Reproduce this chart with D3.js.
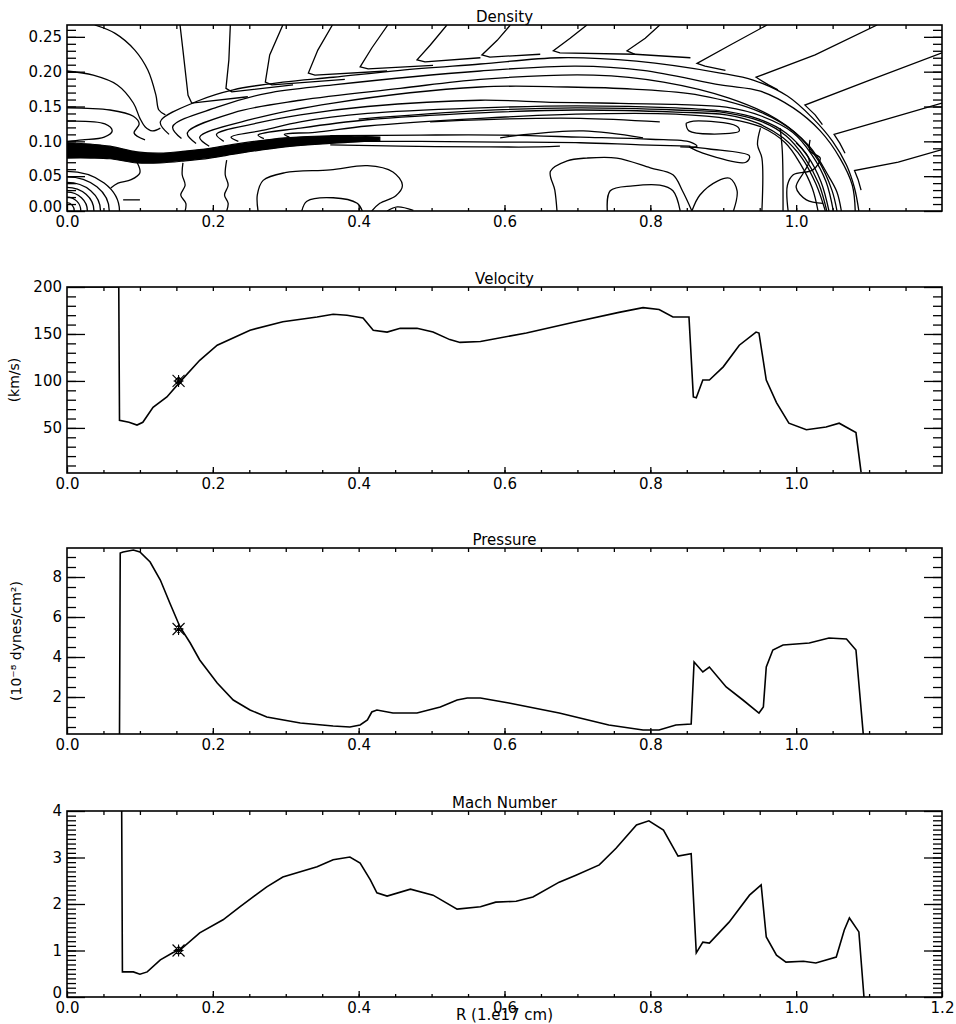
<!DOCTYPE html>
<html>
<body style="margin:0;background:#fff">

<script src="https://d3js.org/d3.v7.min.js"></script>
<script>

const width = 956;
const height = 1024;
const left = 67;
const right = 942;
const panelH = 186;
const tops = [25, 287, 548, 811];
const font = 'DejaVu Sans, sans-serif';

// shared radius axis (1e17 cm)
const rLabels = [0, 0.2, 0.4, 0.6, 0.8, 1.0];
const rLabelsLast = [0, 0.2, 0.4, 0.6, 0.8, 1.0, 1.2];

// velocity (km/s)
const velX = [0, 0.071, 0.072, 0.085, 0.096, 0.104, 0.118, 0.137, 0.155, 0.182, 0.206, 0.251, 0.296, 0.343, 0.365, 0.384, 0.406, 0.420, 0.439, 0.457, 0.480, 0.502, 0.525, 0.539, 0.567, 0.630, 0.698, 0.757, 0.790, 0.812, 0.831, 0.853, 0.859, 0.863, 0.872, 0.881, 0.900, 0.922, 0.945, 0.949, 0.959, 0.973, 0.990, 1.014, 1.041, 1.059, 1.082, 1.089];
const velY = [200, 200, 58, 56, 53, 56, 72, 83, 99, 122, 138, 154, 163, 168, 171, 170, 167, 154, 152, 156, 156, 152, 144, 141, 142, 151, 163, 173, 178, 176, 168, 168, 83, 82, 101, 101, 115, 138, 152, 151, 101, 77, 55, 48, 51, 55, 45, 3];

// pressure (1e-8 dynes/cm2)
const presX = [0.072, 0.073, 0.077, 0.091, 0.100, 0.114, 0.128, 0.141, 0.155, 0.169, 0.182, 0.206, 0.228, 0.251, 0.274, 0.320, 0.365, 0.388, 0.402, 0.412, 0.418, 0.425, 0.447, 0.480, 0.512, 0.535, 0.549, 0.567, 0.606, 0.675, 0.743, 0.790, 0.812, 0.835, 0.856, 0.860, 0.872, 0.881, 0.904, 0.927, 0.949, 0.955, 0.959, 0.968, 0.982, 1.018, 1.045, 1.069, 1.082, 1.092];
const presY = [0.15, 9.2, 9.25, 9.35, 9.25, 8.75, 7.85, 6.7, 5.5, 4.7, 3.85, 2.7, 1.85, 1.35, 1.0, 0.7, 0.55, 0.5, 0.6, 0.85, 1.25, 1.35, 1.2, 1.2, 1.5, 1.85, 1.95, 1.95, 1.7, 1.2, 0.6, 0.35, 0.35, 0.6, 0.65, 3.75, 3.25, 3.5, 2.5, 1.85, 1.2, 1.5, 3.5, 4.35, 4.6, 4.7, 4.95, 4.9, 4.35, 0.15];

// mach number
const machX = [0.075, 0.076, 0.091, 0.100, 0.110, 0.128, 0.145, 0.158, 0.182, 0.214, 0.237, 0.274, 0.296, 0.343, 0.365, 0.388, 0.402, 0.416, 0.425, 0.439, 0.471, 0.502, 0.535, 0.567, 0.588, 0.616, 0.639, 0.675, 0.698, 0.730, 0.753, 0.781, 0.798, 0.818, 0.838, 0.856, 0.863, 0.872, 0.881, 0.908, 0.936, 0.952, 0.959, 0.973, 0.986, 1.010, 1.027, 1.055, 1.066, 1.073, 1.086, 1.093];
const machY = [4, 0.54, 0.54, 0.49, 0.54, 0.8, 0.95, 1.05, 1.38, 1.66, 1.94, 2.37, 2.58, 2.8, 2.95, 3.01, 2.88, 2.52, 2.24, 2.17, 2.32, 2.19, 1.89, 1.94, 2.04, 2.06, 2.15, 2.47, 2.62, 2.84, 3.2, 3.7, 3.79, 3.59, 3.03, 3.08, 0.95, 1.18, 1.16, 1.61, 2.19, 2.41, 1.29, 0.9, 0.75, 0.77, 0.73, 0.86, 1.44, 1.7, 1.4, 0];

// the marked cell
const markR = 0.153;
const markVel = 100;
const markPres = 5.4;
const markMach = 1.0;

// density contours, [R, z] pairs
const shellArcs = [
  [[0.140,0.110],[0.128,0.128],[0.182,0.159],[0.228,0.174],[0.296,0.185],[0.365,0.192],[0.457,0.202],[0.567,0.211],[0.676,0.220],[0.781,0.215],[0.896,0.198],[0.941,0.188],[0.988,0.165],[1.023,0.133],[1.050,0.100],[1.069,0.066],[1.080,0.033],[1.086,0]],
  [[0.157,0.104],[0.145,0.121],[0.206,0.149],[0.274,0.169],[0.365,0.181],[0.567,0.201],[0.698,0.208],[0.790,0.202],[0.896,0.181],[0.951,0.172],[0.996,0.148],[1.033,0.115],[1.060,0.076],[1.077,0.037],[1.081,0]],
  [[0.177,0.097],[0.165,0.112],[0.228,0.141],[0.320,0.159],[0.457,0.176],[0.567,0.189],[0.722,0.195],[0.818,0.185],[0.908,0.162],[0.973,0.132],[1.018,0.093],[1.045,0.049],[1.056,0.027],[1.062,0]],
  [[0.195,0.093],[0.182,0.106],[0.251,0.131],[0.365,0.155],[0.567,0.178],[0.686,0.178],[0.776,0.175],[0.868,0.166],[0.951,0.142],[0.999,0.112],[1.030,0.073],[1.049,0.030],[1.056,0]],
  [[0.215,0.100],[0.205,0.110],[0.260,0.126],[0.320,0.138],[0.412,0.150],[0.567,0.159],[0.663,0.156],[0.731,0.155],[0.835,0.153],[0.904,0.149],[0.953,0.136],[0.995,0.113],[1.022,0.080],[1.041,0.042],[1.051,0]],
  [[0.235,0.100],[0.225,0.106],[0.270,0.116],[0.320,0.128],[0.412,0.140],[0.567,0.148],[0.698,0.151],[0.835,0.148],[0.904,0.143],[0.949,0.132],[0.986,0.112],[1.015,0.080],[1.034,0.042],[1.045,0]],
  [[0.400,0.132],[0.567,0.144],[0.698,0.148],[0.835,0.145],[0.904,0.141],[0.951,0.129],[0.986,0.108],[1.012,0.076],[1.031,0.039],[1.042,0]],
  [[0.270,0.104],[0.262,0.109],[0.320,0.119],[0.412,0.131],[0.567,0.141],[0.698,0.145],[0.835,0.142],[0.904,0.138],[0.947,0.126],[0.982,0.105],[1.008,0.076],[1.027,0.039],[1.040,0]],
  [[0.305,0.106],[0.298,0.110],[0.340,0.113],[0.412,0.122],[0.567,0.133],[0.698,0.139],[0.835,0.139],[0.909,0.132],[0.951,0.121],[0.985,0.098],[1.005,0.069],[1.022,0.033],[1.030,0]]
];

const windLines = [
  [[0.155,0.267],[0.159,0.231],[0.166,0.166],[0.171,0.155],[0.248,0.164]],
  [[0.224,0.267],[0.222,0.217],[0.218,0.176],[0.226,0.171],[0.310,0.181]],
  [[0.296,0.267],[0.278,0.224],[0.272,0.185],[0.281,0.181],[0.381,0.189]],
  [[0.364,0.267],[0.344,0.231],[0.331,0.198],[0.340,0.195],[0.439,0.201]],
  [[0.440,0.267],[0.418,0.234],[0.402,0.207],[0.413,0.204],[0.502,0.209]],
  [[0.521,0.267],[0.498,0.238],[0.480,0.217],[0.491,0.214],[0.567,0.220]],
  [[0.608,0.267],[0.590,0.245],[0.569,0.224],[0.580,0.221],[0.649,0.225]],
  [[0.713,0.267],[0.690,0.248],[0.667,0.230],[0.676,0.227],[0.779,0.225]],
  [[0.813,0.267],[0.793,0.248],[0.768,0.230],[0.779,0.225],[0.855,0.220]],
  [[0.960,0.267],[0.909,0.238],[0.864,0.212],[0.875,0.208],[0.903,0.202]],
  [[1.111,0.267],[1.026,0.224],[0.945,0.192],[0.962,0.181],[0.975,0.174]],
  [[1.200,0.227],[1.101,0.188],[1.012,0.152],[1.026,0.138],[1.036,0.124]],
  [[1.200,0.155],[1.122,0.131],[1.052,0.110],[1.060,0.097],[1.067,0.083]],
  [[1.200,0.088],[1.140,0.070],[1.080,0.058],[1.085,0.045],[1.089,0.030]]
];

const innerLines = [
  [[0.038,0.267],[0.066,0.255],[0.093,0.231],[0.111,0.202],[0.122,0.166],[0.126,0.145],[0.135,0.138]],
  [[0,0.201],[0.036,0.195],[0.069,0.181],[0.091,0.155],[0.100,0.133],[0.107,0.121],[0.117,0.115],[0.128,0.119]],
  [[0,0.148],[0.059,0.145],[0.091,0.136],[0.099,0.125],[0.092,0.112],[0.107,0.102]],
  [[0,0.129],[0.052,0.125],[0.062,0.115],[0.051,0.106],[0.021,0.102],[0,0.100]],
  [[0.096,0.070],[0.100,0.055],[0.088,0.045],[0.070,0.040],[0.060,0.033]],
  [[0.077,0.016],[0.100,0.016]],
  [[0.159,0.069],[0.158,0.052],[0.162,0.037],[0.156,0.023],[0.163,0.011],[0.162,0]],
  [[0.219,0.073],[0.217,0.052],[0.221,0.037],[0.216,0.023],[0.221,0.011],[0.219,0]],
  [[0.262,0],[0.261,0.023],[0.269,0.044],[0.299,0.055],[0.361,0.059],[0.412,0.065],[0.447,0.056],[0.460,0.037],[0.451,0.022],[0.429,0.011],[0.418,0]],
  [[0.322,0],[0.329,0.014],[0.365,0.019],[0.398,0.011],[0.405,0]],
  [[0.439,0],[0.453,0.006],[0.475,0.001]],
  [[0.672,0],[0.669,0.030],[0.663,0.057],[0.686,0.072],[0.713,0.076],[0.754,0.076],[0.800,0.062],[0.831,0.052],[0.844,0.029],[0.857,0]],
  [[0.741,0],[0.745,0.029],[0.776,0.036],[0.813,0.037],[0.831,0.029],[0.841,0]],
  [[0.857,0],[0.868,0.023],[0.892,0.043],[0.909,0.047],[0.919,0.029],[0.914,0]],
  [[0.951,0.119],[0.947,0.095],[0.953,0.076],[0.953,0]],
  [[0.978,0.119],[0.981,0.086],[0.982,0]],
  [[0.989,0],[0.988,0.037],[0.996,0.052],[1.023,0.059],[1.033,0.076],[1.019,0.086],[1.019,0.102]],
  [[1.000,0.098],[1.018,0.073],[1.010,0.055],[1.000,0.034],[1.014,0.016],[1.037,0.011]],
  [[0.849,0.126],[0.859,0.129],[0.918,0.122],[0.922,0.115],[0.914,0.112],[0.853,0.115],[0.849,0.126]],
  [[0.853,0.092],[0.881,0.089],[0.936,0.079],[0.931,0.070],[0.872,0.083],[0.853,0.092]],
  [[0.361,0.108],[0.484,0.109],[0.594,0.109],[0.704,0.106],[0.800,0.103],[0.855,0.099],[0.864,0.093],[0.841,0.092]],
  [[0.361,0.100],[0.484,0.100],[0.594,0.099],[0.704,0.098],[0.786,0.095],[0.855,0.093]],
  [[0.361,0.095],[0.457,0.093],[0.567,0.092],[0.649,0.092],[0.676,0.093]],
  [[0.594,0.105],[0.621,0.109],[0.708,0.115],[0.790,0.105]],
  [[0.498,0.128],[0.594,0.132],[0.704,0.133],[0.813,0.128]]
];

// dense contour band along the jet
const bandX = [0, 0.032, 0.059, 0.096, 0.128, 0.162, 0.196, 0.237, 0.299, 0.361, 0.429];
const bandTop = [0.098, 0.096, 0.093, 0.085, 0.083, 0.086, 0.090, 0.097, 0.105, 0.108, 0.106];
const bandBot = [0.076, 0.076, 0.075, 0.069, 0.069, 0.072, 0.076, 0.083, 0.092, 0.097, 0.101];

// rings around the origin (semi-axes)
const ringRx = [0.010, 0.019, 0.028, 0.037, 0.046, 0.058, 0.072];
const ringRy = [0.012, 0.020, 0.027, 0.034, 0.041, 0.049, 0.057];

const svg = d3.select('body')
  .append('svg')
  .attr('width', width)
  .attr('height', height)
  .style('font-family', font);

const x = d3.scaleLinear().domain([0, 1.2]).range([left, right]);
const xMinor = d3.range(0.05, 1.2, 0.05);

function makePanel(i, yDomain) {
  const y = d3.scaleLinear().domain(yDomain).range([tops[i] + panelH, tops[i]]);
  const g = svg.append('g');
  g.append('clipPath').attr('id', 'clip' + i)
    .append('rect')
    .attr('x', left).attr('y', tops[i])
    .attr('width', right - left).attr('height', panelH);
  const plot = g.append('g').attr('clip-path', `url(#clip${i})`);
  return { g, plot, y, i };
}

function style(sel) {
  sel.select('.domain').remove();
  sel.selectAll('line').attr('stroke', '#000').attr('stroke-width', 1.3);
  sel.selectAll('text')
    .attr('font-family', font)
    .attr('font-size', 15)
    .attr('fill', '#000');
}

function axes(p, cfg) {
  const { g, y, i } = p;
  const top = tops[i];
  const bottom = top + panelH;

  g.append('g').attr('transform', `translate(0,${bottom})`)
    .call(d3.axisBottom(x).tickValues(xMinor).tickSize(-3).tickFormat(''))
    .call(style);
  g.append('g').attr('transform', `translate(0,${bottom})`)
    .call(d3.axisBottom(x).tickValues(cfg.xLabels).tickSize(-6).tickPadding(5).tickFormat(d3.format('.1f')))
    .call(style);
  g.append('g').attr('transform', `translate(0,${top})`)
    .call(d3.axisTop(x).tickValues(xMinor).tickSize(-4).tickFormat(''))
    .call(style);

  g.append('g').attr('transform', `translate(${left},0)`)
    .call(d3.axisLeft(y).tickValues(cfg.yMinor).tickSize(-9).tickFormat(''))
    .call(style);
  const yl = g.append('g').attr('transform', `translate(${left},0)`)
    .call(d3.axisLeft(y).tickValues(cfg.yMajor).tickSize(-18).tickPadding(5).tickFormat(cfg.yFormat))
    .call(style);
  // lowest label sits a little above its tick, as in the original plot
  yl.selectAll('.tick text').filter(d => d === cfg.yMajor[0]).attr('dy', cfg.firstDy || '0.32em');

  g.append('g').attr('transform', `translate(${right},0)`)
    .call(d3.axisRight(y).tickValues(cfg.yMinor).tickSize(-9).tickFormat(''))
    .call(style);
  g.append('g').attr('transform', `translate(${right},0)`)
    .call(d3.axisRight(y).tickValues(cfg.yMajor).tickSize(-18).tickFormat(''))
    .call(style);

  g.append('rect')
    .attr('x', left).attr('y', top)
    .attr('width', right - left).attr('height', panelH)
    .attr('fill', 'none').attr('stroke', '#000').attr('stroke-width', 1.6);

  g.append('text')
    .attr('x', (left + right) / 2).attr('y', top - 3)
    .attr('text-anchor', 'middle')
    .attr('font-size', 15)
    .text(cfg.title);

  if (cfg.yTitle) {
    g.append('text')
      .attr('transform', `translate(${cfg.yTitleX},${top + panelH / 2}) rotate(-90)`)
      .attr('text-anchor', 'middle')
      .attr('font-size', 14)
      .text(cfg.yTitle);
  }
}

const line = (y, curve) => d3.line()
  .x(d => x(d[0]))
  .y(d => y(d[1]))
  .curve(curve || d3.curveLinear);

function profile(p, xs, ys) {
  p.plot.append('path')
    .datum(d3.zip(xs, ys))
    .attr('d', line(p.y))
    .attr('fill', 'none')
    .attr('stroke', '#000')
    .attr('stroke-width', 1.6);
}

function marker(p, xv, yv) {
  const cx = x(xv), cy = p.y(yv);
  const s = 6;
  p.g.append('path')
    .attr('d', `M${cx - s},${cy - s}L${cx + s},${cy + s}M${cx - s},${cy + s}L${cx + s},${cy - s}` +
      `M${cx},${cy - s}L${cx},${cy + s}M${cx - 5},${cy}L${cx + 5},${cy}` +
      `M${cx},${cy - 4}L${cx + 4},${cy}L${cx},${cy + 4}L${cx - 4},${cy}Z`)
    .attr('fill', 'none')
    .attr('stroke', '#000')
    .attr('stroke-width', 1.1);
}

// ---- Density
const pd = makePanel(0, [0, 0.267]);
pd.plot.append('path')
  .datum(d3.range(bandX.length))
  .attr('d', d3.area()
    .x(k => x(bandX[k]))
    .y0(k => pd.y(bandBot[k]))
    .y1(k => pd.y(bandTop[k]))
    .curve(d3.curveCatmullRom))
  .attr('fill', '#000')
  .attr('stroke', '#000')
  .attr('stroke-width', 1.2);

pd.plot.selectAll('ellipse.ring')
  .data(d3.range(ringRx.length))
  .enter().append('ellipse')
  .attr('class', 'ring')
  .attr('cx', x(0))
  .attr('cy', pd.y(0))
  .attr('rx', k => x(ringRx[k]) - x(0))
  .attr('ry', k => pd.y(0) - pd.y(ringRy[k]))
  .attr('fill', 'none')
  .attr('stroke', '#000')
  .attr('stroke-width', 1.3);

pd.plot.selectAll('path.shell')
  .data(shellArcs)
  .enter().append('path')
  .attr('class', 'shell')
  .attr('d', line(pd.y, d3.curveCatmullRom))
  .attr('fill', 'none').attr('stroke', '#000').attr('stroke-width', 1.3);

pd.plot.selectAll('path.wind')
  .data(windLines)
  .enter().append('path')
  .attr('class', 'wind')
  .attr('d', line(pd.y))
  .attr('fill', 'none').attr('stroke', '#000').attr('stroke-width', 1.3);

pd.plot.selectAll('path.inner')
  .data(innerLines)
  .enter().append('path')
  .attr('class', 'inner')
  .attr('d', line(pd.y, d3.curveCatmullRom))
  .attr('fill', 'none').attr('stroke', '#000').attr('stroke-width', 1.3);

axes(pd, {
  title: 'Density',
  xLabels: rLabels,
  yMajor: [0, 0.05, 0.10, 0.15, 0.20, 0.25],
  yMinor: d3.range(0.01, 0.265, 0.01),
  yFormat: d3.format('.2f'),
  firstDy: '0.05em'
});

// ---- Velocity
const pv = makePanel(1, [2, 200]);
profile(pv, velX, velY);
axes(pv, {
  title: 'Velocity',
  xLabels: rLabels,
  yMajor: [50, 100, 150, 200],
  yMinor: d3.range(10, 200, 10),
  yFormat: d3.format('d'),
  yTitle: '(km/s)',
  yTitleX: 19
});
marker(pv, markR, markVel);

// ---- Pressure
const pp = makePanel(2, [0.15, 9.45]);
profile(pp, presX, presY);
axes(pp, {
  title: 'Pressure',
  xLabels: rLabels,
  yMajor: [2, 4, 6, 8],
  yMinor: d3.range(0.5, 9.4, 0.5),
  yFormat: d3.format('d'),
  yTitle: '(10⁻⁸ dynes/cm²)',
  yTitleX: 21
});
marker(pp, markR, markPres);

// ---- Mach number
const pm = makePanel(3, [0, 4]);
profile(pm, machX, machY);
axes(pm, {
  title: 'Mach Number',
  xLabels: rLabelsLast,
  yMajor: [0, 1, 2, 3, 4],
  yMinor: d3.range(0.1, 4, 0.1),
  yFormat: d3.format('d'),
  firstDy: '0em'
});
marker(pm, markR, markMach);

svg.append('text')
  .attr('x', (left + right) / 2)
  .attr('y', 1020)
  .attr('text-anchor', 'middle')
  .attr('font-size', 15)
  .text('R (1.e17 cm)');

</script>
</body>
</html>
